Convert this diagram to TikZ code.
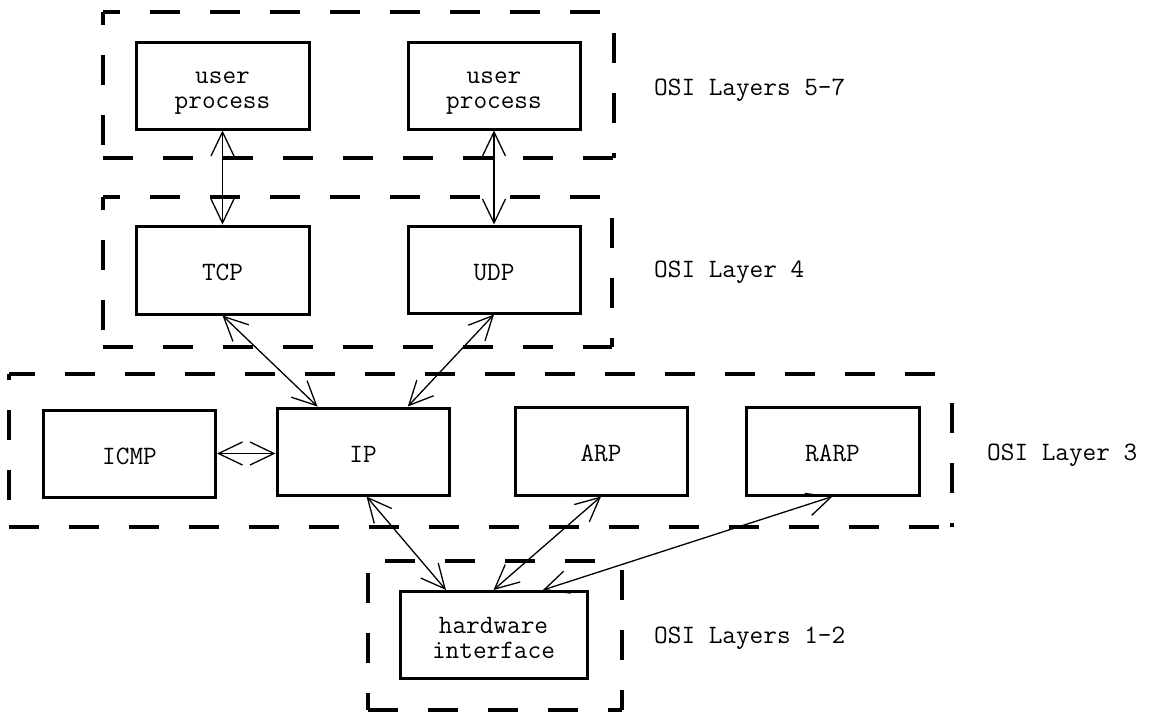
\documentclass[tikz,border=0pt]{standalone}
\usetikzlibrary{arrows.meta,calc}
\tikzset{
  layerline/.style={line width=3.5pt, dash pattern=on 30pt off 30pt},
  procbox/.style={draw, line width=3pt, rectangle, inner sep=0pt},
  boxtext/.style={anchor=base, inner sep=0pt, font=\ttfamily\fontsize{26.5}{27}\selectfont},
  link/.style={line width=1.3pt, {Straight Barb[length=24pt,width=23pt]}-{Straight Barb[length=24pt,width=23pt]}},
  layerlabel/.style={anchor=base west, inner sep=0pt, font=\ttfamily\fontsize{26.5}{27}\selectfont}
}
\begin{document}
\begin{tikzpicture}[x=1pt,y=-1pt]
\useasboundingbox (0,0) rectangle (1157,713);
% layer boxes (each side drawn on its own)
\draw[layerline, dash phase=13pt] (103,12) -- (614,12);
\draw[layerline, dash phase=17pt] (103,12) -- (103,158);
\draw[layerline, dash phase=0pt]  (103,158) -- (614,158);
\draw[layerline, dash phase=39pt] (614,12) -- (614,158);
\draw[layerline, dash phase=13pt] (103,197) -- (612,197);
\draw[layerline, dash phase=17pt] (103,197) -- (103,347);
\draw[layerline, dash phase=0pt]  (103,347) -- (612,347);
\draw[layerline, dash phase=39pt] (612,197) -- (612,347);
\draw[layerline, dash phase=4pt]  (9,374) -- (952,374);
\draw[layerline, dash phase=24pt] (9,374) -- (9,527);
\draw[layerline, dash phase=0pt]  (9,527) -- (952,527);
\draw[layerline, dash phase=31pt] (952,374) -- (952,527);
\draw[layerline, dash phase=43pt] (368,561) -- (622,561);
\draw[layerline, dash phase=48pt] (368,561) -- (368,710);
\draw[layerline, dash phase=0pt]  (368,710) -- (622,710);
\draw[layerline, dash phase=51pt] (622,561) -- (622,710);
% process boxes
\node[procbox, minimum width=173pt, minimum height=87pt] (up1) at (222.5,85.5) {};
\node[procbox, minimum width=172pt, minimum height=87pt] (up2) at (494,85.5) {};
\node[procbox, minimum width=173pt, minimum height=88pt] (tcp) at (222.5,270) {};
\node[procbox, minimum width=172pt, minimum height=87pt] (udp) at (494,269.5) {};
\node[procbox, minimum width=172pt, minimum height=87pt] (icmp) at (129.5,453.5) {};
\node[procbox, minimum width=172pt, minimum height=87pt] (ip) at (363,451.5) {};
\node[procbox, minimum width=172pt, minimum height=88pt] (arp) at (601,451) {};
\node[procbox, minimum width=173pt, minimum height=88pt] (rarp) at (832.5,451) {};
\node[procbox, minimum width=187pt, minimum height=87pt] (hw) at (493.5,635) {};
% box texts
\node[boxtext] (up1a) at ($(up1.center)+(0,-2)$) {user};
\node[boxtext] (up1b) at ($(up1.center)+(0,23)$) {process};
\node[boxtext] (up2a) at ($(up2.center)+(0,-2)$) {user};
\node[boxtext] (up2b) at ($(up2.center)+(0,23)$) {process};
\node[boxtext] (tcpt) at ($(tcp.center)+(0,10.5)$) {TCP};
\node[boxtext] (udpt) at ($(udp.center)+(0,10.5)$) {UDP};
\node[boxtext] (icmpt) at ($(icmp.center)+(0,10.5)$) {ICMP};
\node[boxtext] (ipt) at ($(ip.center)+(0,10.5)$) {IP};
\node[boxtext] (arpt) at ($(arp.center)+(0,10.5)$) {ARP};
\node[boxtext] (rarpt) at ($(rarp.center)+(0,10.5)$) {RARP};
\node[boxtext] (hwa) at ($(hw.center)+(0,-2)$) {hardware};
\node[boxtext] (hwb) at ($(hw.center)+(0,23)$) {interface};
% labels
\node[layerlabel] (l57) at (654,95) {OSI Layers 5-7};
\node[layerlabel] (l4) at (654,277) {OSI Layer 4};
\node[layerlabel] (l3) at (987,460) {OSI Layer 3};
\node[layerlabel] (l12) at (654,643) {OSI Layers 1-2};
% connectors
\draw[link] (up1.south) -- (tcp.north);
\draw[link] (up2.south) -- (udp.north);
\draw[link] (tcp.south) -- ($(ip.north west)!0.24!(ip.north east)$);
\draw[link] (udp.south) -- ($(ip.north west)!0.756!(ip.north east)$);
\draw[link] (icmp.east) -- (icmp.east -| ip.west);
\draw[link] ($(ip.south west)!0.52!(ip.south east)$) -- ($(hw.north west)!0.25!(hw.north east)$);
\draw[link] (arp.south) -- (hw.north);
\draw[link] (rarp.south) -- ($(hw.north west)!0.76!(hw.north east)$);
\end{tikzpicture}
\end{document}
